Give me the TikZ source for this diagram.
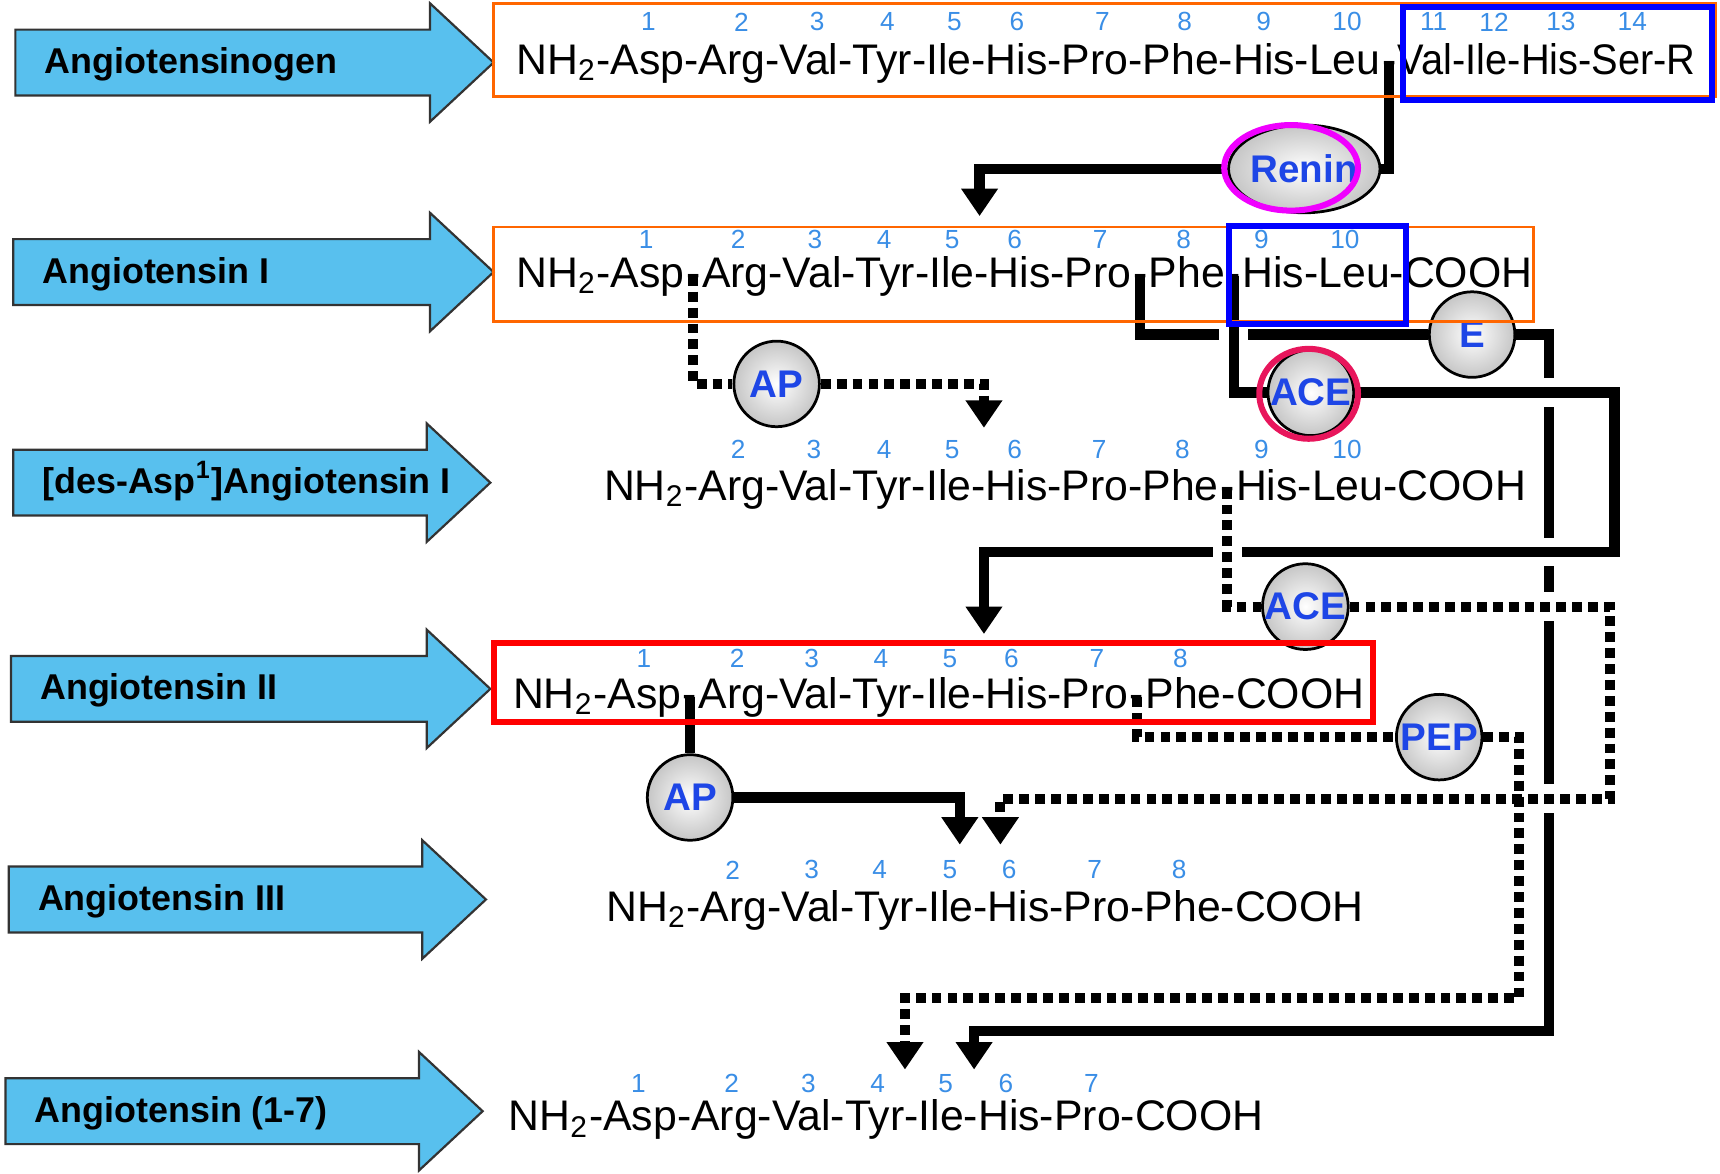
\documentclass[tikz,border=0pt]{standalone}
\usepackage{fontspec}
\setmainfont{Liberation Sans}
\usetikzlibrary{arrows.meta, positioning, shapes.geometric}

\definecolor{arrowblue}{RGB}{88,192,238}
\definecolor{numblue}{RGB}{58,142,230}
\definecolor{enzblue}{RGB}{30,70,230}
\definecolor{boxorange}{RGB}{255,102,0}
\definecolor{ringmagenta}{RGB}{240,0,255}
\definecolor{ringpink}{RGB}{232,22,92}

\newcommand{\pepfont}{\fontsize{11.1}{13}\selectfont}
\newcommand{\numfont}{\fontsize{6.8}{8}\selectfont}
\newcommand{\lblfont}{\fontsize{9.3}{11}\selectfont\bfseries}
\newcommand{\enzfont}{\fontsize{10}{12}\selectfont\bfseries}

\pgfdeclarelayer{background}
\pgfsetlayers{background,main}

\tikzset{
    pep/.style={inner sep=0pt, font=\pepfont, text height=8.5pt, text depth=2.5pt},
    num/.style={inner sep=0pt, font=\numfont, text=numblue},
    lbl/.style={inner sep=0pt, font=\lblfont, anchor=base west},
    blockarrow/.style={draw=black!80, line width=0.2mm, fill=arrowblue},
    enz/.style={circle, draw, line width=0.25mm, inner color=white, outer color=gray!45,
        font=\enzfont, text=enzblue, inner sep=0pt, minimum size=7.8mm},
    ring/.style={ellipse, draw=#1, line width=0.55mm, inner sep=0pt},
    solidline/.style={line width=0.95mm},
    dotline/.style={line width=0.9mm, dash pattern=on 0.9mm off 0.55mm},
    halo/.style={preaction={draw=white, solid, line width=2.6mm}},
    orangebox/.style={draw=boxorange, line width=0.25mm},
    bluebox/.style={draw=blue, line width=0.55mm},
    redbox/.style={draw=red, line width=0.55mm}
}

\begin{document}
\begin{tikzpicture}[x=0.1mm, y=-0.1mm, >={Triangle[width=3.2mm,length=2.5mm]}]
    \useasboundingbox (0,0) rectangle (1568,1070);

    % blue block arrows with the peptide names
    \foreach \y/\xl/\xt/\lbltext [count=\i] in {57/14/450/Angiotensinogen, 248/12/450/Angiotensin I,
        440/12/447/{[des-Asp\textsuperscript{1}]Angiotensin I}, 628/10/447/Angiotensin II,
        820/8/443/Angiotensin III, 1013/5/440/Angiotensin (1-7)} {
        \draw[blockarrow] (\xl,\y-30) -- (\xt-58,\y-30) -- (\xt-58,\y-54) -- (\xt,\y)
            -- (\xt-58,\y+54) -- (\xt-58,\y+30) -- (\xl,\y+30) -- cycle;
        \node[lbl] (lbl\i) at (\xl+26,\y+10) {\lbltext};
    }

    % peptide chains
    \node[pep, anchor=base west] (r1a) at (470,68) {NH\textsubscript{2}-Asp-Arg-Val-Tyr-Ile-His-Pro-Phe-His-Leu};
    \node[pep, right=0pt of r1a] (r1c) {-};
    \node[pep, right=0pt of r1c] (r1b) {\scalebox{0.93}[1]{Val-Ile-His-Ser-R}};

    \node[pep, anchor=base west] (r2a) at (470,262) {NH\textsubscript{2}-Asp};
    \node[pep, right=0pt of r2a] (r2c1) {-};
    \node[pep, right=0pt of r2c1] (r2b) {Arg-Val-Tyr-Ile-His-Pro};
    \node[pep, right=0pt of r2b] (r2c2) {-};
    \node[pep, right=0pt of r2c2] (r2d) {Phe};
    \node[pep, right=0pt of r2d] (r2c3) {-};
    \node[pep, right=0pt of r2c3] (r2e) {His-Leu-COOH};

    \node[pep, anchor=base west] (r3a) at (550,456) {NH\textsubscript{2}-Arg-Val-Tyr-Ile-His-Pro-Phe};
    \node[pep, right=0pt of r3a] (r3c) {-};
    \node[pep, right=0pt of r3c] (r3b) {His-Leu-COOH};

    \node[pep, anchor=base west] (r4a) at (467,646) {NH\textsubscript{2}-Asp};
    \node[pep, right=0pt of r4a] (r4c1) {-};
    \node[pep, right=0pt of r4c1] (r4b) {Arg-Val-Tyr-Ile-His-Pro};
    \node[pep, right=0pt of r4b] (r4c2) {-};
    \node[pep, right=0pt of r4c2] (r4d) {Phe-COOH};

    \node[pep, anchor=base west] (r5) at (552,840) {NH\textsubscript{2}-Arg-Val-Tyr-Ile-His-Pro-Phe-COOH};
    \node[pep, anchor=base west] (r6) at (463,1031) {NH\textsubscript{2}-Asp-Arg-Val-Tyr-Ile-His-Pro-COOH};

    % residue numbers
    \foreach \n/\x in {1/591,2/676,3/745,4/809,5/870,6/927,7/1005,8/1080,9/1152,10/1228,11/1307,12/1362,13/1423,14/1488}
        \node[num] (num1-\n) at (\x,20) {\n};
    \foreach \n/\x in {1/589,2/673,3/743,4/806,5/868,6/925,7/1003,8/1079,9/1150,10/1226}
        \node[num] (num2-\n) at (\x,218) {\n};
    \foreach \n/\x in {2/673,3/742,4/806,5/868,6/925,7/1002,8/1078,9/1150,10/1228}
        \node[num] (num3-\n) at (\x,410) {\n};
    \foreach \n/\x in {1/587,2/672,3/740,4/803,5/866,6/922,7/1000,8/1076}
        \node[num] (num4-\n) at (\x,600) {\n};
    \foreach \n/\x in {2/668,3/740,4/802,5/866,6/920,7/998,8/1075}
        \node[num] (num5-\n) at (\x,793) {\n};
    \foreach \n/\x in {1/582,2/667,3/737,4/800,5/862,6/917,7/995}
        \node[num] (num6-\n) at (\x,988) {\n};

    % enzymes
    \node[enz, ellipse, minimum width=10.6mm, minimum height=8mm] (renin) at (1189,154) {Renin};
    \node[enz] (E) at (1342,305) {E};
    \node[enz] (ace1) at (1195,358) {ACE};
    \node[enz] (ap1) at (708,350) {AP};
    \node[enz] (ace2) at (1190,553) {ACE};
    \node[enz] (pep) at (1312,672) {PEP};
    \node[enz] (ap2) at (r4c1.center |- 0,727) {AP};

    \node[ring=ringmagenta, minimum width=12.2mm, minimum height=7.8mm] (reninring) at (1177,153) {};
    \node[ring=ringpink, minimum width=9mm, minimum height=8.2mm] (acering) at (1193,359) {};

    % bends and arrow ends
    \coordinate (t2) at (893,197);
    \coordinate (t3) at (897,390);
    \coordinate (t4) at (897,578);
    \coordinate (t5a) at (875,770);
    \coordinate (t5b) at (912,770);
    \coordinate (t6a) at (825,975);
    \coordinate (t6b) at (888,975);
    \coordinate (ebend) at (1412,940);
    \coordinate (acebend) at (1472,503);
    \coordinate (ace2bend) at (1468,728);
    \coordinate (pepbend) at (1385,910);

    \begin{pgfonlayer}{background}
        % renin
        \draw[solidline] (r1c.center) |- (renin);
        \draw[solidline, ->] (renin) -| (t2);
        % aminopeptidase on Ang I
        \draw[dotline] (r2c1.center) |- (ap1);
        \draw[dotline, ->] (ap1) -| (t3);
        % endopeptidase
        \draw[solidline] (r2c2.center) |- (E);
        \draw[solidline, ->] (E) -| (ebend) -| (t6b);
        % ACE on Ang I
        \draw[solidline, halo] (r2c3.center) |- (ace1);
        \draw[solidline, halo, ->] (ace1) -| (acebend) -| (t4);
        % ACE on des-Asp Ang I
        \draw[dotline, halo] (r3c.center) |- (ace2);
        \draw[dotline, halo, ->] (ace2) -| (ace2bend) -| (t5b);
        % aminopeptidase on Ang II
        \draw[solidline] (r4c1.center) -- (ap2);
        \draw[solidline, ->] (ap2) -| (t5a);
        % PEP
        \draw[dotline] (r4c2.center) |- (pep);
        \draw[dotline, ->] (pep) -| (pepbend) -| (t6a);
    \end{pgfonlayer}

    % highlight boxes
    \draw[orangebox] (450,3) rectangle (1564,88);
    \draw[bluebox] (1279,6) rectangle (1561,91);
    \draw[orangebox] (450,207) rectangle (1398,293);
    \draw[bluebox] (1120,206) rectangle (1282,295);
    \draw[redbox] (450,586) rectangle (1252,658);
\end{tikzpicture}
\end{document}
